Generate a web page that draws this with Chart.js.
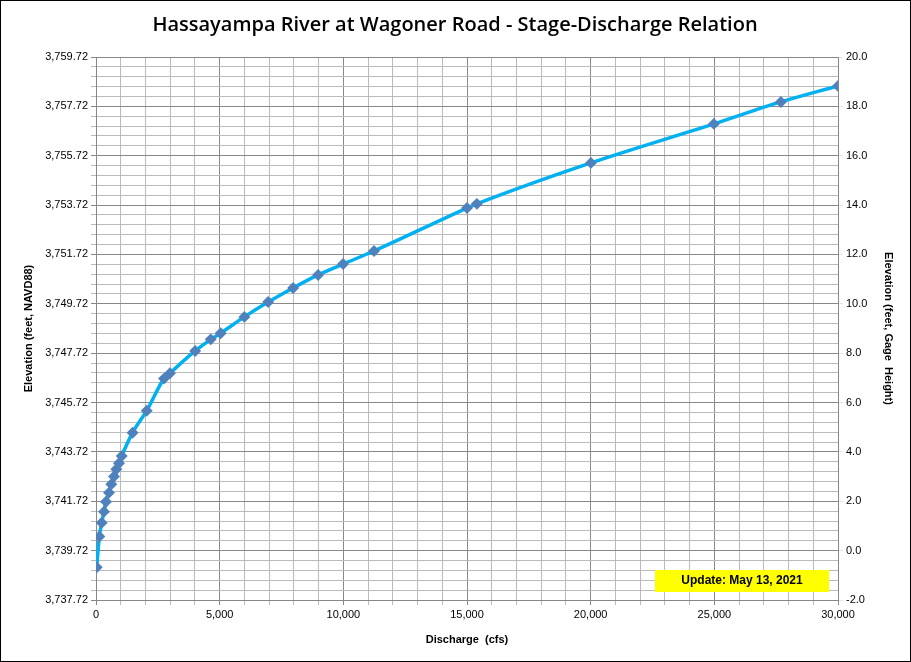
<!DOCTYPE html>
<html><head><meta charset="utf-8">
<script src="https://cdn.jsdelivr.net/npm/chart.js@4/dist/chart.umd.min.js"></script>
<style>html,body{margin:0;padding:0;background:#fff}#w{width:911px;height:662px;position:relative;box-sizing:border-box}canvas{display:block}</style>
</head><body><div id="w"><canvas id="c" width="911" height="662"></canvas></div>
<script>
const discharge=[30,135,230,323,404,526,620,728,822,930,1040,1480,2050,2750,2990,4010,4640,5040,6000,6960,7970,8980,9990,11240,15000,15400,20010,24980,27690,30000];
const gageHeight=[-0.67,0.57,1.13,1.58,1.98,2.35,2.69,3.0,3.3,3.54,3.83,4.78,5.67,6.97,7.19,8.09,8.56,8.81,9.47,10.07,10.64,11.17,11.61,12.14,13.88,14.05,15.71,17.29,18.18,18.83];
const datumOffset=3739.72;
const titleText='Hassayampa River at Wagoner Road - Stage-Discharge Relation';
const updateText='Update: May 13, 2021';
const F='"Liberation Sans", Arial, sans-serif';
const deco={id:'deco',afterDraw(ch){const c=ch.ctx;c.save();
c.strokeStyle='#000';c.lineWidth=1;c.strokeRect(0.5,0.5,910,661);
c.fillStyle='#000';c.font='600 20px "Open Sans", '+F;c.textAlign='center';c.textBaseline='middle';c.fillText(titleText,455,25);
c.fillStyle='#FFFF00';c.fillRect(655,570,174,22);
c.fillStyle='#000';c.font='bold 12px '+F;c.fillText(updateText,742,581);
c.restore();}};
const isMajor=v=>Math.round(v*10)%20===0;
new Chart(document.getElementById('c'),{type:'line',
data:{datasets:[{data:discharge.map((d,i)=>({x:d,y:gageHeight[i]})),borderColor:'#00B0F0',borderWidth:3.5,tension:0.3,cubicInterpolationMode:'monotone',pointStyle:'rectRot',pointRadius:3.5,pointBackgroundColor:'#4F81BD',pointBorderColor:'#4F81BD',yAxisID:'y'}]},
options:{responsive:false,animation:false,layout:{padding:{top:57,left:0,right:0,bottom:0}},
plugins:{legend:{display:false},tooltip:{enabled:false}},
scales:{
x:{type:'linear',min:0,max:30000,afterFit:s=>{s.height=62},afterBuildTicks:s=>{s.ticks=[];for(let v=0;v<=30000;v+=1000)s.ticks.push({value:v})},
 ticks:{autoSkip:false,maxRotation:0,color:'#000',font:{size:11,family:F},callback:v=>v%5000===0?v.toLocaleString('en-US'):''},
 grid:{color:c=>c.tick&&c.tick.value%5000===0?'#888':'#bbb',tickLength:5},border:{color:'#888'},
 title:{display:true,text:'Discharge  (cfs)',color:'#000',font:{size:11,weight:'bold',family:F},padding:{top:2,bottom:15}}},
y:{type:'linear',position:'left',min:-2,max:20,afterFit:s=>{s.width=96},afterBuildTicks:s=>{s.ticks=[];for(let i=0;i<=55;i++)s.ticks.push({value:-2+i*0.4})},
 ticks:{autoSkip:false,color:'#000',font:{size:11,family:F},callback:v=>isMajor(v)?(v+datumOffset).toLocaleString('en-US',{minimumFractionDigits:2,maximumFractionDigits:2}):''},
 grid:{color:c=>c.tick&&isMajor(c.tick.value)?'#888':'#bbb',tickLength:5},border:{color:'#888'},
 title:{display:true,text:'Elevation (feet, NAVD88)',color:'#000',font:{size:11,weight:'bold',family:F},padding:{top:22}}},
y2:{type:'linear',position:'right',min:-2,max:20,afterFit:s=>{s.width=73},afterBuildTicks:s=>{s.ticks=[];for(let v=-2;v<=20;v+=2)s.ticks.push({value:v})},
 ticks:{autoSkip:false,color:'#000',font:{size:11,family:F},callback:v=>v.toFixed(1)},
 grid:{drawOnChartArea:false,tickLength:5},border:{color:'#888'},
 title:{display:true,text:'Elevation (feet, Gage  Height)',color:'#000',font:{size:11,weight:'bold',family:F},padding:{top:16}}}
}},plugins:[deco]});
</script></body></html>
